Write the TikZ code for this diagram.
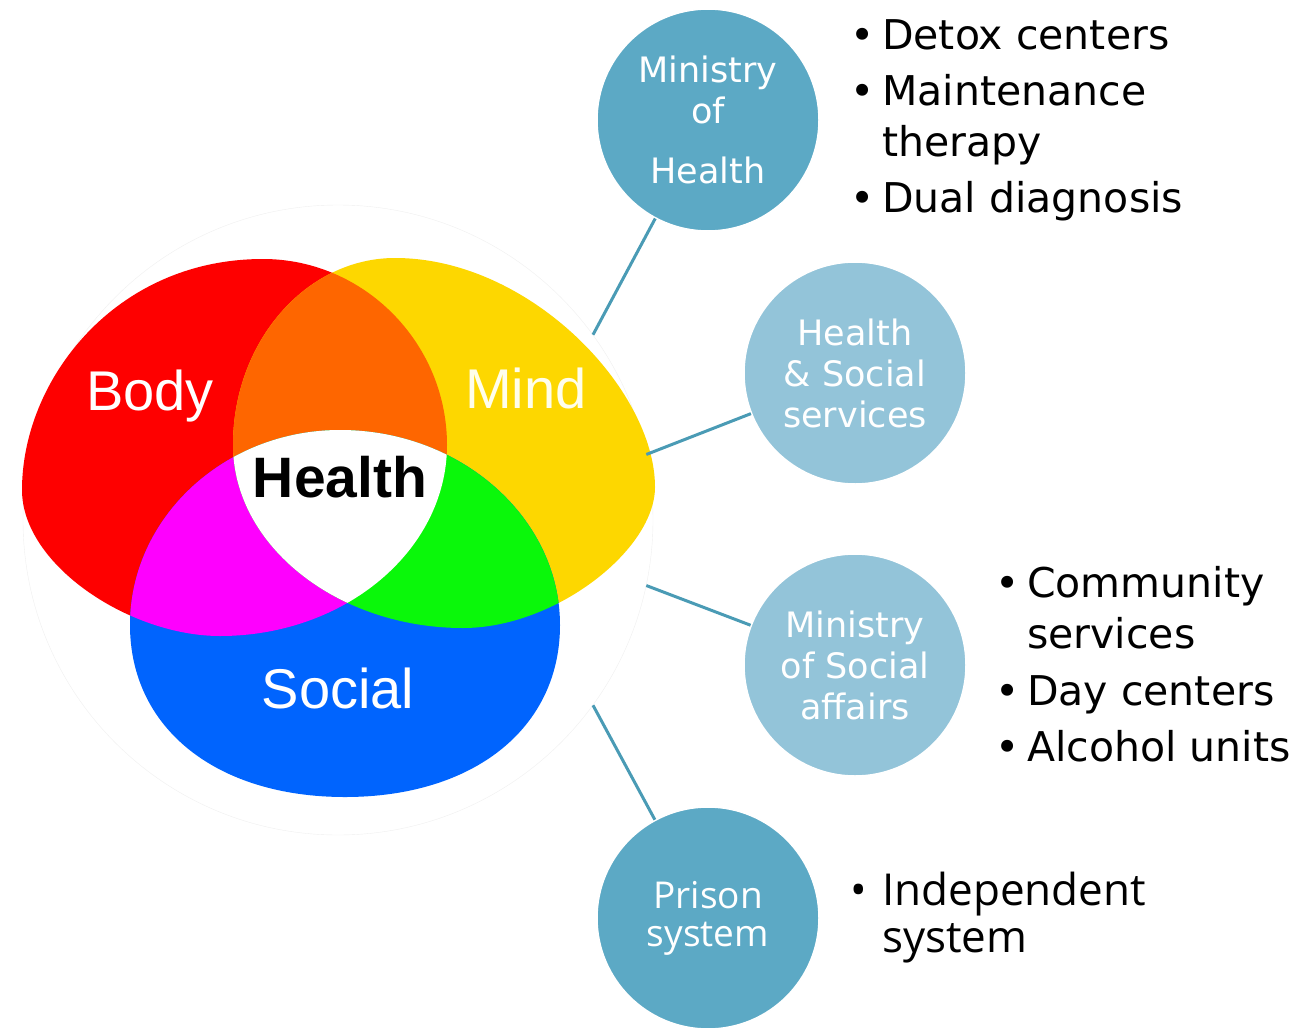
\documentclass[tikz,border=0pt]{standalone}
\usepackage{fontspec}
\setmainfont{DejaVu Sans}
\newfontfamily\vennfont{Liberation Sans}
\newfontfamily\prisonfont{Open Sans}
\usepackage{tikz}
\tikzset{>=latex}
\definecolor{bodyred}{HTML}{FE0000}
\definecolor{mindyellow}{HTML}{FDD700}
\definecolor{socialblue}{HTML}{0064FE}
\definecolor{overlaporange}{HTML}{FE6600}
\definecolor{overlapmagenta}{HTML}{FE00FE}
\definecolor{overlapgreen}{HTML}{0AF80A}
\definecolor{ministrydark}{HTML}{5CA9C5}
\definecolor{ministrylight}{HTML}{93C4D9}
\definecolor{linkteal}{HTML}{4A9BB5}

\def\bodyshape{(22,490) .. controls (22,380) and (115,259) .. (263,259) .. controls (364,259) and (447,343) .. (447,445) .. controls (447,550) and (345,636) .. (220,636) .. controls (130,636) and (22,565) .. (22,490) -- cycle}
\def\mindshape{(655,487) .. controls (655,390) and (530,258) .. (395,258) .. controls (306,258) and (233,342) .. (233,445) .. controls (233,546) and (338,628) .. (463,628) .. controls (555,628) and (655,550) .. (655,487) -- cycle}
\def\socialshape{(130,625) .. controls (130,518) and (224,430) .. (340,430) .. controls (461,430) and (560,518) .. (560,625) .. controls (560,728) and (474,797) .. (345,797) .. controls (216,797) and (130,728) .. (130,625) -- cycle}
\newcommand\itm[1]{\makebox[32pt][l]{\textbullet}#1}

\tikzset{
	ministry/.style={circle,minimum size=222pt,inner sep=0pt,draw=white,line width=1.5pt,text=white,align=center,font=\fontsize{35}{41}\selectfont},
	link/.style={line width=3pt,color=linkteal},
	vennlabel/.style={anchor=base,inner sep=0pt,text=white,font=\vennfont\fontsize{56}{60}\selectfont},
	bullets/.style={anchor=north west,inner sep=0pt,align=left,font=\fontsize{41}{51}\selectfont}
}

\begin{document}
\begin{tikzpicture}[x=1pt,y=-1pt]
	\useasboundingbox (0,0) rectangle (1312,1028);
	\node[circle,minimum size=630pt,inner sep=0pt,draw=black!6,fill=white] (venn) at (338,520) {};

	\fill[bodyred] \bodyshape;
	\fill[mindyellow] \mindshape;
	\fill[socialblue] \socialshape;
	\begin{scope}
		\clip \bodyshape;
		\fill[overlaporange] \mindshape;
		\fill[overlapmagenta] \socialshape;
	\end{scope}
	\begin{scope}
		\clip \mindshape;
		\fill[overlapgreen] \socialshape;
		\clip \bodyshape;
		\fill[white] \socialshape;
	\end{scope}

	\node[vennlabel] (body) at (150,410) {Body};
	\node[vennlabel,text=white!92!yellow] (mind) at (526,408) {Mind};
	\node[vennlabel] (social) at (338,708) {Social};
	\node[vennlabel,text=black,font=\vennfont\bfseries\fontsize{57}{60}\selectfont] (health) at (340,497) {Health};

	\node[ministry,fill=ministrydark] (moh) at (708,120) {Ministry\\of\\[19pt]Health};
	\node[ministry,fill=ministrylight] (hss) at (855,373) {Health\\\& Social\\services};
	\node[ministry,fill=ministrylight] (mosa) at (855,665) {Ministry\\of Social\\affairs};
	\node[ministry,fill=ministrydark,font=\prisonfont\fontsize{37}{38}\selectfont] (prison) at (708,918) {Prison\\system};

	\draw[link] (venn.36) -- (moh);
	\draw[link] (venn.12) -- (hss);
	\draw[link] (venn.-12) -- (mosa);
	\draw[link] (venn.-36) -- (prison);

	\node[bullets] (mohlist) at (850,19) {\itm{Detox centers}\\[5pt]\itm{Maintenance}\\\hspace*{32pt}therapy\\[5pt]\itm{Dual diagnosis}};
	\node[bullets] (mosalist) at (995,566) {\itm{Community}\\\hspace*{32pt}services\\[6pt]\itm{Day centers}\\[5pt]\itm{Alcohol units}};
	\node[bullets,font=\prisonfont\fontsize{44}{47}\selectfont] (prisonlist) at (850,872) {\itm{Independent}\\\hspace*{32pt}system};
\end{tikzpicture}
\end{document}
